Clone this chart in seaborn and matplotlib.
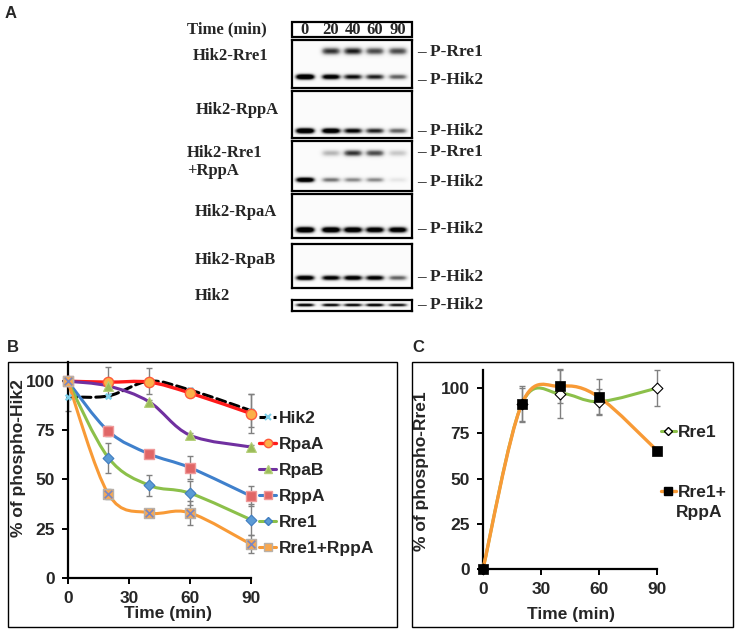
import numpy as np
import pandas as pd
import matplotlib
matplotlib.use("Agg")
import matplotlib.pyplot as plt
import seaborn as sns
from matplotlib.path import Path
from matplotlib.patches import PathPatch, Rectangle
from matplotlib.lines import Line2D

# ---------------- data ----------------
time_min = [0, 20, 40, 60, 90]
lane_labels = ["0", "20", "40", "60", "90"]

# panel B: % of phospho-Hik2
b_hik2 = [92, 92.5, 100, 95.5, 85]
b_rpaA = [100, 99.5, 99.5, 94, 83.5]
b_rpaB = [100, 97.5, 89.5, 72.5, 66.5]
b_rppA = [100, 74.5, 63, 56, 41.5]
b_rre1 = [100, 61, 47, 43, 29.5]
b_rre1_rppA = [100, 42.5, 33, 33, 17]

b_hik2_err = [7, 0, 6.5, 1, 8.5]
b_rpaA_err = [0, 7.5, 0, 0, 10]
b_rpaB_err = [0, 1, 1, 1, 1]
b_rppA_err = [0, 2.5, 1.5, 6, 5]
b_rre1_err = [0, 7.5, 5.3, 6, 8]
b_rre1_rppA_err = [0, 2.5, 1, 6, 4.5]

b_names = ["Hik2", "RpaA", "RpaB", "RppA", "Rre1", "Rre1+RppA"]

# panel C: % of phospho-Rre1
c_rre1 = [0, 91, 97, 92.5, 100]
c_rre1_rppA = [0, 91, 101, 95, 65.5]
c_rre1_err = [0, 9, 13.5, 7, 10]
c_rre1_rppA_err = [0, 10, 9, 10, 0]
c_names = ["Rre1", "Rre1+"]

# panel A: relative band intensities per lane (0, 20, 40, 60, 90 min)
blot_names = ["Hik2-Rre1", "Hik2-RppA", "Hik2-Rre1\n+RppA", "Hik2-RpaA", "Hik2-RpaB", "Hik2"]
a_rre1_prre1 = [0.0, 0.55, 0.6, 0.5, 0.5]
a_rre1_phik2 = [1.0, 0.8, 0.65, 0.6, 0.45]
a_rppA_phik2 = [1.0, 0.9, 0.7, 0.6, 0.45]
a_mix_prre1 = [0.0, 0.25, 0.55, 0.5, 0.2]
a_mix_phik2 = [0.9, 0.4, 0.35, 0.35, 0.1]
a_rpaA_phik2 = [1.0, 0.95, 0.9, 0.85, 0.85]
a_rpaB_phik2 = [0.85, 0.75, 0.8, 0.75, 0.45]
a_hik2_phik2 = [0.75, 0.7, 0.7, 0.75, 0.65]

# ---------------- style ----------------
sns.set_style("ticks")
plt.rcParams["font.family"] = ["Liberation Sans", "DejaVu Sans"]
plt.rcParams["font.weight"] = "bold"
plt.rcParams["axes.labelweight"] = "bold"

W, H = 737, 632
fig = plt.figure(figsize=(W / 100, H / 100), dpi=100)

def frac(x0, y0, x1, y1):
    return [x0 / W, 1 - y1 / H, (x1 - x0) / W, (y1 - y0) / H]

ov = fig.add_axes([0, 0, 1, 1])
ov.set_xlim(0, W)
ov.set_ylim(H, 0)
ov.axis("off")

SERIF = ["Liberation Serif", "DejaVu Serif"]
SANS = ["Liberation Sans", "DejaVu Sans"]

# ---------------- panel A ----------------
ov.text(11, 13, "A", fontsize=12, fontweight="bold", family=SANS, ha="center", va="center")
ov.text(187, 29, "Time (min)", fontsize=12, fontweight="bold", family=SERIF, ha="left", va="center")
ov.add_patch(Rectangle((292, 22), 120, 15, fill=False, lw=1.6, ec="black"))
lane_x = [305, 331, 353, 375, 398]
for lx, lab in zip(lane_x, lane_labels):
    ov.text(lx, 30, lab, fontsize=12, fontweight="bold", family=SERIF, ha="center", va="center")

blot_layout = [
    # (top, bottom, label x, label y, rows[(band y, intensities, halfheight, label, label y)])
    (40, 88, 193, 56, [(51, a_rre1_prre1, 3.8, "P-Rre1", 52), (77, a_rre1_phik2, 2.8, "P-Hik2", 80)]),
    (91, 138, 196, 110, [(131, a_rppA_phik2, 2.8, "P-Hik2", 131)]),
    (141, 191, 187, 162, [(153, a_mix_prre1, 3.4, "P-Rre1", 152), (180, a_mix_phik2, 2.6, "P-Hik2", 182)]),
    (194, 238, 195, 212, [(230, a_rpaA_phik2, 3.0, "P-Hik2", 229)]),
    (244, 288, 195, 260, [(278, a_rpaB_phik2, 2.6, "P-Hik2", 277)]),
    (300, 311, 195, 296, [(305, a_hik2_phik2, 1.7, "P-Hik2", 305)]),
]
xs = np.arange(292, 412.01, 0.5)
for name, (top, bot, lbx, lby, rows) in zip(blot_names, blot_layout):
    ax = fig.add_axes(frac(292, top, 412, bot))
    ys = np.arange(top, bot + 0.01, 0.5)
    X, Y = np.meshgrid(xs, ys)
    img = np.full(X.shape, 0.03)
    for (yc, vals, hh, _lab, _ly) in rows:
        for lx, v in zip(lane_x, vals):
            img += 1.5 * v * np.exp(-((X - lx) / 9.5) ** 4) * np.exp(-((Y - yc) / hh) ** 2)
    ax.imshow(np.clip(img, 0, 1), cmap="Greys", vmin=0, vmax=1, extent=[292, 412, bot, top],
              aspect="auto", interpolation="bilinear")
    ax.set_xlim(292, 412)
    ax.set_ylim(bot, top)
    ax.set_xticks([])
    ax.set_yticks([])
    for sp in ax.spines.values():
        sp.set_linewidth(1.6)
        sp.set_color("black")
    ov.text(lbx, lby, name, fontsize=12, fontweight="bold", family=SERIF, ha="left", va="center",
            linespacing=1.15)
    for (yc, vals, hh, lab, ly) in rows:
        ov.text(417, ly, "– " + lab, fontsize=12.5, fontweight="bold", family=SERIF,
                ha="left", va="center")

# ---------------- helpers ----------------
def smooth_path(x, y):
    pts = np.column_stack([x, y]).astype(float)
    n = len(pts)
    verts = [pts[0]]
    codes = [Path.MOVETO]
    for i in range(n - 1):
        p0 = pts[i - 1] if i > 0 else pts[i]
        p1 = pts[i]
        p2 = pts[i + 1]
        p3 = pts[i + 2] if i + 2 < n else pts[i + 1]
        verts += [p1 + (p2 - p0) / 6.0, p2 - (p3 - p1) / 6.0, p2]
        codes += [Path.CURVE4] * 3
    return Path(verts, codes)

def style_axis(ax):
    sns.despine(ax=ax)
    for sp in ["left", "bottom"]:
        ax.spines[sp].set_linewidth(1.6)
        ax.spines[sp].set_color("black")
    ax.set_xlim(0, 90)
    ax.set_ylim(0, 110)
    ax.set_xticks([0, 30, 60, 90])
    ax.set_yticks([0, 25, 50, 75, 100])
    ax.tick_params(direction="out", length=4.5, width=1.4, color="black", labelsize=12.5, pad=5)
    for t in ax.get_xticklabels() + ax.get_yticklabels():
        t.set_fontweight("bold")
    ax.set_facecolor("none")

def draw_series(ax, vals, err, line_kw, mk_kw, extra_mk=None):
    mask = [e > 0 for e in err]
    tx = [t for t, m in zip(time_min, mask) if m]
    ty = [v for v, m in zip(vals, mask) if m]
    te = [e for e, m in zip(err, mask) if m]
    if tx:
        ax.errorbar(tx, ty, yerr=te, fmt="none", ecolor="#808080", elinewidth=1.0,
                    capsize=2.5, capthick=1.0, zorder=2, clip_on=False)
    ax.add_patch(PathPatch(smooth_path(time_min, vals), fill=False, clip_on=False,
                           zorder=3, capstyle="round", **line_kw))
    df = pd.DataFrame({"t": time_min, "v": vals})
    sns.scatterplot(data=df, x="t", y="v", ax=ax, zorder=4, clip_on=False, legend=False, **mk_kw)
    if extra_mk:
        sns.scatterplot(data=df, x="t", y="v", ax=ax, zorder=5, clip_on=False, legend=False, **extra_mk)

# ---------------- panel B ----------------
ov.add_patch(Rectangle((8, 362), 389, 265, fill=False, lw=1.0, ec="black"))
ov.text(13, 348, "B", fontsize=12, fontweight="bold", family=SANS, ha="center", va="center")
axB = fig.add_axes(frac(67.7, 361.5, 251, 577.7))
style_axis(axB)

b_specs = [
    (b_hik2, b_hik2_err, dict(edgecolor="black", lw=2.2, linestyle=(0, (3, 1.6))),
     dict(marker="X", s=28, color="#7fd0ea", edgecolor="#7fd0ea", linewidth=0), None,
     dict(color="black", ls=(0, (3, 1.6)), lw=2.2, marker="x", ms=5, mec="#7fd0ea", mew=1.5)),
    (b_rpaA, b_rpaA_err, dict(edgecolor="#ff1a1a", lw=2.4),
     dict(marker="o", s=55, color="#fbb048", edgecolor="#ff5a3a", linewidth=1.0), None,
     dict(color="#ff1a1a", lw=2.4, marker="o", ms=6, mfc="#fbb048", mec="#ff5a3a")),
    (b_rpaB, b_rpaB_err, dict(edgecolor="#7030a0", lw=2.2),
     dict(marker="^", s=50, color="#9bbb59", edgecolor="#b5d07a", linewidth=0.8), None,
     dict(color="#7030a0", lw=2.2, marker="^", ms=6, mfc="#9bbb59", mec="#b5d07a")),
    (b_rppA, b_rppA_err, dict(edgecolor="#3f80cc", lw=2.2),
     dict(marker="s", s=55, color="#e06666", edgecolor="#f09a9a", linewidth=1.0), None,
     dict(color="#3f80cc", lw=2.2, marker="s", ms=6, mfc="#e06666", mec="#f09a9a")),
    (b_rre1, b_rre1_err, dict(edgecolor="#8cc04a", lw=2.2),
     dict(marker="D", s=30, color="#5b9bd5", edgecolor="#3f7cc0", linewidth=0.8), None,
     dict(color="#8cc04a", lw=2.2, marker="D", ms=4.5, mfc="#5b9bd5", mec="#3f7cc0")),
    (b_rre1_rppA, b_rre1_rppA_err, dict(edgecolor="#f89a36", lw=2.2),
     dict(marker="s", s=55, color="#f8a850", edgecolor="#b8b0a8", linewidth=1.0),
     dict(marker="x", s=30, color="#7a86c0", linewidth=1.2),
     dict(color="#f89a36", lw=2.2, marker="s", ms=6, mfc="#f8a850", mec="#b8b0a8")),
]
b_handles = []
for vals, err, lk, mk, ex, hk in b_specs:
    draw_series(axB, vals, err, lk, mk, ex)
    b_handles.append(Line2D([], [], **hk))

axB.set_xlabel("Time (min)", fontsize=12.5, fontweight="bold")
axB.set_ylabel("% of phospho-Hik2", fontsize=12.5, fontweight="bold")
axB.xaxis.set_label_coords(0.547, -0.132)
axB.yaxis.set_label_coords(-0.228, 0.554)
legB = fig.legend(b_handles, b_names, loc="upper left", bbox_to_anchor=(259 / W, 1 - 411 / H),
                  frameon=False, handlelength=1.0, handletextpad=0.15, labelspacing=0.62,
                  borderpad=0, borderaxespad=0,
                  prop=dict(family=SANS, weight="bold", size=12.5))

# ---------------- panel C ----------------
ov.add_patch(Rectangle((412, 362), 321, 265, fill=False, lw=1.0, ec="black"))
ov.text(418, 348, "C", fontsize=12, fontweight="bold", family=SANS, ha="center", va="center")
axC = fig.add_axes(frac(483, 370, 657, 569))
style_axis(axC)

draw_series(axC, c_rre1, c_rre1_err, dict(edgecolor="#8cc04a", lw=2.2),
            dict(marker="D", s=30, color="white", edgecolor="black", linewidth=0.8))
draw_series(axC, c_rre1_rppA, c_rre1_rppA_err, dict(edgecolor="#f89a36", lw=2.4),
            dict(marker="s", s=55, color="black", edgecolor="black", linewidth=0.5))
c_handles = [
    Line2D([], [], color="#8cc04a", lw=2.2, marker="D", ms=4.5, mfc="white", mec="black"),
    Line2D([], [], color="#f89a36", lw=2.4, marker="s", ms=6, mfc="black", mec="black"),
]
axC.set_xlabel("Time (min)", fontsize=12.5, fontweight="bold")
axC.set_ylabel("% of phospho-Rre1", fontsize=12.5, fontweight="bold")
axC.xaxis.set_label_coords(0.506, -0.193)
axC.yaxis.set_label_coords(-0.31, 0.492)
legC = fig.legend(c_handles, c_names, loc="upper left", bbox_to_anchor=(661 / W, 1 - 425 / H),
                  frameon=False, handlelength=0.85, handletextpad=0.15, labelspacing=2.56,
                  borderpad=0, borderaxespad=0,
                  prop=dict(family=SANS, weight="bold", size=12.5))
ov.text(676, 512, "RppA", fontsize=12.5, fontweight="bold", family=SANS, ha="left", va="center")

fig.savefig("out.png", dpi=100)
